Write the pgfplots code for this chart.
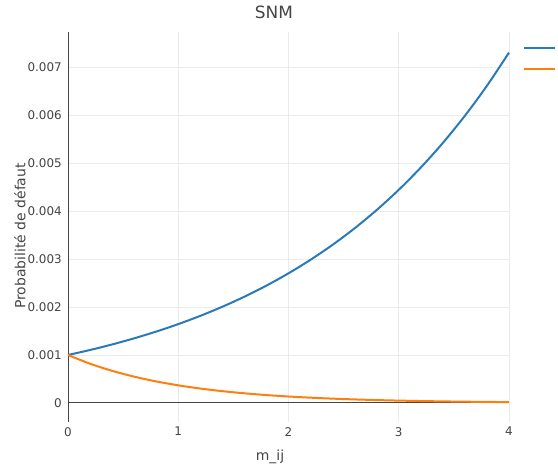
\documentclass[border=0pt]{standalone}
\usepackage{fontspec}
\setmainfont{DejaVu Sans}
\usepackage{pgfplots}
\pgfplotsset{compat=1.18}
\definecolor{txt}{HTML}{444444}
\definecolor{gridc}{HTML}{EBEBEB}
\definecolor{pblue}{HTML}{2A7AB8}
\definecolor{porange}{HTML}{FF7F0E}
\begin{document}
\begin{tikzpicture}
\path[use as bounding box] (0,0) rectangle (558bp,471bp);
\begin{axis}[
  at={(68bp,49bp)}, anchor=south west,
  scale only axis, width=441bp, height=390bp,
  xmin=0, xmax=4, ymin=-0.000396, ymax=0.00773,
  xtick={0,1,2,3,4},
  ytick={0,0.001,0.002,0.003,0.004,0.005,0.006,0.007},
  scaled y ticks=false,
  yticklabel style={/pgf/number format/.cd, fixed, fixed zerofill=false, precision=3, /tikz/.cd},
  /pgf/number format/assume math mode=true,
  axis line style={draw=none},
  major tick length=0pt,
  grid=major,
  grid style={gridc, line width=1bp},
  tick label style={font=\fontsize{12}{14}\selectfont, text=txt},
  yticklabel style={inner sep=0pt, anchor=east, xshift=-6bp},
  xticklabel style={inner sep=0pt, anchor=north, yshift=-5bp},
  extra x ticks={0}, extra x tick labels={},
  extra y ticks={0}, extra y tick labels={},
  extra tick style={grid style={txt, line width=1bp}},
  title={SNM},
  title style={at={(axis description cs:0.467,1)}, anchor=center, yshift=14bp, font=\fontsize{17}{20}\selectfont, text=txt},
  xlabel={m\_ij},
  xlabel style={at={(axis description cs:0.458,0)}, anchor=center, yshift=-35bp, font=\fontsize{14}{16}\selectfont, text=txt},
  ylabel={Probabilité de défaut},
  ylabel style={at={(axis description cs:-0.1088,0.477)}, anchor=center, rotate=0, font=\fontsize{14}{16}\selectfont, text=txt},
  legend style={at={(axis description cs:1,1)}, anchor=north west, xshift=14bp, yshift=-13bp, draw=none, fill=none, row sep=16bp, inner sep=0pt, font=\fontsize{12}{14}\selectfont},
  legend cell align=left,
  legend image code/.code={\draw[#1, line width=2bp] (0bp,0bp) -- (31bp,0bp);},
  clip=false,
]
\addplot[pblue, line width=2bp, no markers, smooth] coordinates {
(0,0.0010000) (0.2,0.0011045) (0.4,0.0012199) (0.6,0.0013474) (0.8,0.0014882)
(1.0,0.0016438) (1.2,0.0018156) (1.4,0.0020054) (1.6,0.0022149) (1.8,0.0024464)
(2.0,0.0027020) (2.2,0.0029844) (2.4,0.0032963) (2.6,0.0036408) (2.8,0.0040213)
(3.0,0.0044416) (3.2,0.0049057) (3.4,0.0054185) (3.6,0.0059847) (3.8,0.0066101)
(4.0,0.0073010)
};
\addlegendentry{}
\addplot[porange, line width=2bp, no markers, smooth] coordinates {
(0,0.0010000) (0.2,0.0008187) (0.4,0.0006703) (0.6,0.0005488) (0.8,0.0004493)
(1.0,0.0003679) (1.2,0.0003012) (1.4,0.0002466) (1.6,0.0002019) (1.8,0.0001653)
(2.0,0.0001353) (2.2,0.0001108) (2.4,0.0000907) (2.6,0.0000743) (2.8,0.0000608)
(3.0,0.0000498) (3.2,0.0000408) (3.4,0.0000334) (3.6,0.0000273) (3.8,0.0000224)
(4.0,0.0000183)
};
\addlegendentry{}
\end{axis}
\end{tikzpicture}
\end{document}
